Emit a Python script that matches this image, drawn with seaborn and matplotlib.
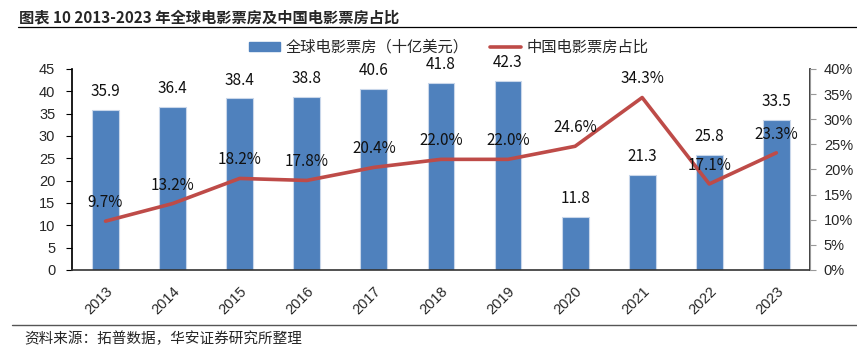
import numpy as np
import pandas as pd
import matplotlib
matplotlib.use("Agg")
import matplotlib.pyplot as plt
import seaborn as sns
from matplotlib.lines import Line2D
from matplotlib.patches import Patch

years = ["2013", "2014", "2015", "2016", "2017", "2018", "2019", "2020", "2021", "2022", "2023"]
box_office = [35.9, 36.4, 38.4, 38.8, 40.6, 41.8, 42.3, 11.8, 21.3, 25.8, 33.5]
china_share = [9.7, 13.2, 18.2, 17.8, 20.4, 22.0, 22.0, 24.6, 34.3, 17.1, 23.3]

bar_name = "全球电影票房（十亿美元）"
line_name = "中国电影票房占比"
title = "图表 10 2013-2023 年全球电影票房及中国电影票房占比"
source = "资料来源：拓普数据，华安证券研究所整理"

sns.set_theme(style="white")
plt.rcParams['font.family'] = ['Noto Sans CJK SC', 'DejaVu Sans']
cjk = ['Noto Sans CJK SC', 'DejaVu Sans']
latin = ['Liberation Sans', 'DejaVu Sans']

bar_color = "#4F81BD"
line_color = "#BE4B48"

df = pd.DataFrame({"year": years, "box": box_office, "share": china_share, "pos": np.arange(len(years))})

fig = plt.figure(figsize=(8.57, 3.57), dpi=100)
ax = fig.add_axes([0.084, 0.244, 0.861, 0.563])

sns.barplot(data=df, x="year", y="box", color=bar_color, width=0.4, saturation=1,
            edgecolor="#c9d7ea", linewidth=0.8, ax=ax)
ax.set_ylim(0, 45)
ax.set_yticks(range(0, 46, 5))
ax.set_xlim(-0.5, 10.5)
ax.set_xlabel("")
ax.set_ylabel("")
for p, v in zip(ax.patches, box_office):
    ax.text(p.get_x() + p.get_width() / 2, v + 2.2, f"{v:.1f}", ha="center", va="bottom",
            fontsize=11, family=cjk, color="#111111")

ax2 = ax.twinx()
sns.lineplot(data=df, x="pos", y="share", color=line_color, linewidth=2.6, ax=ax2, legend=False)
ax2.set_ylim(0, 40)
ax2.set_yticks(range(0, 41, 5))
ax2.set_yticklabels([f"{t}%" for t in range(0, 41, 5)])
ax2.set_xlabel("")
ax2.set_ylabel("")
for x, v in zip(df["pos"], china_share):
    ax2.text(x, v + 2.0, f"{v:.1f}%", ha="center", va="bottom",
             fontsize=11, family=cjk, color="#111111")

for a in (ax, ax2):
    a.spines["top"].set_visible(False)
ax.spines["left"].set_color("black")
ax.spines["bottom"].set_color("#333333")
ax.spines["bottom"].set_linewidth(1.2)
ax2.spines["left"].set_visible(False)
ax2.spines["bottom"].set_visible(False)
ax2.spines["right"].set_color("#999999")
ax2.spines["right"].set_linewidth(0.8)

ax.tick_params(axis="y", left=True, length=4, width=0.8, color="black", labelsize=10.5, pad=8)
ax.tick_params(axis="x", bottom=False, labelsize=10.5, pad=4)
ax2.tick_params(axis="y", right=True, length=4, width=0.8, color="#999999", labelsize=10.5, pad=6)
for lab in ax.get_yticklabels() + ax2.get_yticklabels():
    lab.set_family(latin)
for lab in ax.get_xticklabels():
    lab.set_family(latin)
    lab.set_rotation(45)
    lab.set_ha("right")
    lab.set_rotation_mode("anchor")

handles = [Patch(color=bar_color), Line2D([0], [0], color=line_color, linewidth=2.6)]
fig.legend(handles, [bar_name, line_name], loc="center", bbox_to_anchor=(0.524, 0.868), ncol=2,
           frameon=False, handlelength=2.0, handleheight=0.5, handletextpad=0.4, columnspacing=1.4,
           prop={'family': cjk, 'size': 11})

fig.text(0.022, 0.952, title, fontsize=11, fontweight="bold", ha="left", va="center", family=cjk)
fig.add_artist(Line2D([0.021, 1.0], [0.924, 0.924], color="black", linewidth=0.9))
fig.add_artist(Line2D([0.014, 1.0], [0.09, 0.09], color="#555555", linewidth=1.0))
fig.text(0.028, 0.052, source, fontsize=10.5, ha="left", va="center", family=cjk)

fig.savefig("out.png", dpi=100)
